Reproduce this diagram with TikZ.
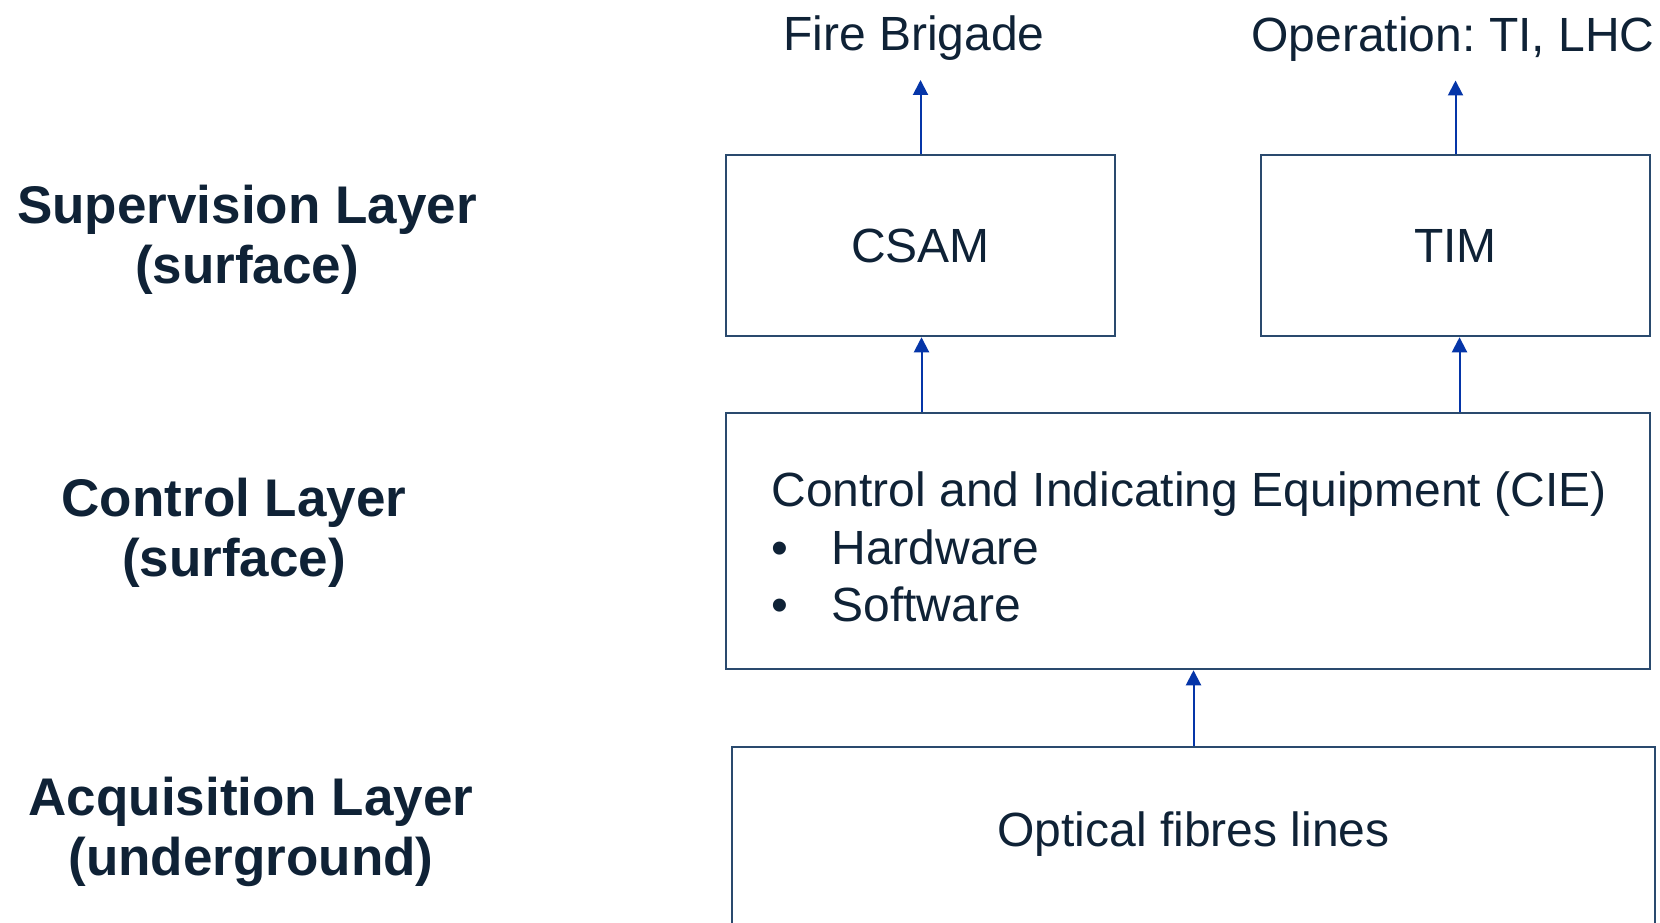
\documentclass[tikz,border=0pt]{standalone}
\usepackage{fontspec}
\setmainfont{Liberation Sans}
\usetikzlibrary{arrows.meta}
\definecolor{inktext}{HTML}{0F2236}
\definecolor{boxline}{HTML}{2A4A6E}
\definecolor{flowblue}{HTML}{0535A8}
\frenchspacing
\begin{document}
\begin{tikzpicture}[
x=1pt, y=-1pt,
layerlabel/.style={align=center, inner sep=0pt, text=inktext, font=\fontsize{53}{60}\selectfont\bfseries},
toptext/.style={anchor=base, inner sep=0pt, text=inktext, font=\fontsize{48}{57.5}\selectfont},
box/.style={rectangle, draw=boxline, line width=2.5pt, inner sep=0pt, text=inktext, font=\fontsize{48}{57.5}\selectfont},
flow/.style={draw=flowblue, line width=2pt, -{Triangle[length=15pt, width=15pt]}},
]
\useasboundingbox (0,0) rectangle (1660,923);
\clip (0,0) rectangle (1660,923);
%Nodes
\node[toptext] (fire) at (914,51) {Fire Brigade};
\node[toptext] (oper) at (1453,51.5) {Operation: TI, LHC};
\node[box, minimum width=389pt, minimum height=181pt] (csam) at (920.5,245.5) {CSAM};
\node[box, minimum width=389pt, minimum height=181pt] (tim) at (1455.5,245.5) {TIM};
\node[box, minimum width=924pt, minimum height=256pt, align=left] (cie) at (1188,541)
  {\rule{0pt}{47pt}\hspace{2pt}Control and Indicating Equipment (CIE)\\
   \hspace{2pt}\makebox[60pt][l]{\textbullet}Hardware\\
   \hspace{2pt}\makebox[60pt][l]{\textbullet}Software};
\node[box, minimum width=923pt, anchor=north, text height=100pt, text depth=300pt] (fibres) at (1193.5,745.5) {Optical fibres lines};
\node[layerlabel] (sup) at (247,240) {Supervision Layer\\(surface)};
\node[layerlabel] (ctl) at (234,533) {Control Layer\\(surface)};
\node[layerlabel] (acq) at (251,832) {Acquisition Layer\\(underground)};

%Connectors
\coordinate (fireIn) at ([yshift=-29pt]fire.base -| csam.north);
\coordinate (operIn) at ([yshift=-29pt]oper.base -| tim.north);
\draw[flow] (csam.north) -- (fireIn);
\draw[flow] (tim.north) -- (operIn);
\draw[flow] ([xshift=1pt]csam.south |- cie.north) -- ([xshift=1pt]csam.south);
\draw[flow] ([xshift=4pt]tim.south |- cie.north) -- ([xshift=4pt]tim.south);
\draw[flow] (fibres.north) -- (fibres.north |- cie.south);
\end{tikzpicture}
\end{document}
